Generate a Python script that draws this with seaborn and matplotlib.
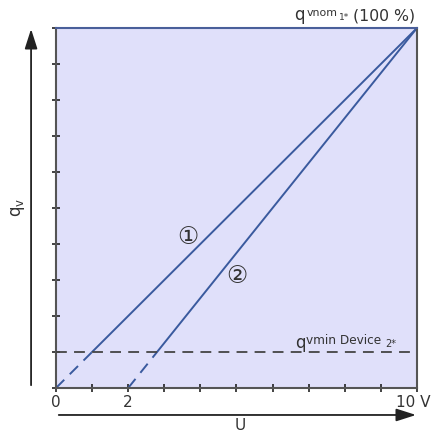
import matplotlib
matplotlib.use("Agg")
import matplotlib.pyplot as plt
import matplotlib.patches as mpatches
import matplotlib.transforms as mtransforms
import pandas as pd
import seaborn as sns

# Valve characteristics: control voltage U (V) against flow q_v (tenths of q_vnom)
u_curve1 = [0, 10]
q_curve1 = [0, 10]
u_curve2 = [2, 10]
q_curve2 = [0, 10]
q_vmin = 1.0
x_ticks = list(range(0, 11))
y_ticks = list(range(0, 11))
x_tick_labels = ["0", "", "2", "", "", "", "", "", "", "", "10 V"]

sns.set_theme(style="white")
plt.rcParams["font.family"] = ["DejaVu Sans", "Noto Sans CJK SC"]
plt.rcParams["mathtext.fontset"] = "dejavusans"

df = pd.concat([
    pd.DataFrame({"U": u_curve1, "q": q_curve1, "curve": "1"}),
    pd.DataFrame({"U": u_curve2, "q": q_curve2, "curve": "2"}),
])

line_color = "#3a5a9e"
bg_color = "#e0e0fa"
edge_color = "#555555"
text_color = "#333333"

fig = plt.figure(figsize=(4.36, 4.32), dpi=100)
ax = fig.add_axes([0.1284, 0.1019, 0.828, 0.8333])
ax.set_facecolor(bg_color)

# solid part above q_vmin, dashed part below it
sns.lineplot(data=df, x="U", y="q", units="curve", estimator=None,
             color=line_color, lw=1.4, ax=ax, legend=False)
n_solid = len(ax.lines)
sns.lineplot(data=df, x="U", y="q", units="curve", estimator=None,
             color=line_color, lw=1.4, ax=ax, legend=False)
above = mpatches.Rectangle((0, q_vmin), 10, 10 - q_vmin, transform=ax.transData,
                           visible=False)
below = mpatches.Rectangle((0, 0), 10, q_vmin, transform=ax.transData,
                           visible=False)
ax.add_patch(above)
ax.add_patch(below)
for i, ln in enumerate(ax.lines):
    if i < n_solid:
        ln.set_clip_path(above)
    else:
        ln.set_clip_path(below)
        ln.set_dashes([6, 4])

ax.axhline(q_vmin, color="#444444", lw=1.3, dashes=(6, 4), zorder=3)

ax.set_xlim(0, 10)
ax.set_ylim(0, 10)
ax.set_xticks(x_ticks)
ax.set_xticklabels(x_tick_labels, fontsize=11, color=text_color)
ax.set_yticks(y_ticks)
ax.set_yticklabels([])
ax.tick_params(axis="both", direction="inout", length=6, width=1.2,
               color="#222222", bottom=True, left=True, pad=2)
for lbl in ax.get_xticklabels():
    if lbl.get_text() == "10 V":
        lbl.set_horizontalalignment("right")
        lbl.set_transform(lbl.get_transform() +
                          mtransforms.ScaledTranslation(14 / 100, 0, fig.dpi_scale_trans))
ax.set_xlabel("")
ax.set_ylabel("")
for side in ["left", "bottom", "right"]:
    ax.spines[side].set_color(edge_color)
    ax.spines[side].set_linewidth(1.5)
ax.spines["top"].set_color("#4a5f9a")
ax.spines["top"].set_linewidth(1.5)

# axis arrows
arrow = dict(arrowstyle="-|>,head_length=1.0,head_width=0.32",
             color="#222222", lw=1.3)
ax.annotate("", xy=(-0.069, 1.005), xytext=(-0.069, 0.0),
            xycoords="axes fraction", textcoords="axes fraction",
            arrowprops=arrow, annotation_clip=False)
ax.annotate("", xy=(1.005, -0.075), xytext=(0.0, -0.075),
            xycoords="axes fraction", textcoords="axes fraction",
            arrowprops=arrow, annotation_clip=False)

ax.text(0.51, -0.105, "U", transform=ax.transAxes, ha="center", va="center",
        fontsize=11, color=text_color)
ax.text(-0.106, 0.503, r"$\mathrm{q}_{\mathrm{v}}$", transform=ax.transAxes,
        ha="center", va="center", rotation=90, fontsize=12, color=text_color)


def put(x, y_img, s, size):
    # place a text piece by its left edge and baseline, in figure pixels
    fig.text(x / 436, (432 - y_img) / 432, s, ha="left", va="baseline",
             fontsize=size, color=text_color)


# nominal flow label at the top right
put(294, 19.5, "q", 12)
put(307, 16.5, "vnom", 7.9)
put(339, 20.5, "1*", 6.5)
put(353, 20.5, "(100 %)", 11.3)

# minimum flow label above the dashed line
put(295, 347.5, "q", 12)
put(306, 344, "vmin Device", 8.7)
put(385, 347, "2*", 7)

ax.text(3.65, 4.2, "①", ha="center", va="center", fontsize=17, color=text_color)
ax.text(5.0, 3.1, "②", ha="center", va="center", fontsize=17, color=text_color)

fig.savefig("out.png", dpi=100)
